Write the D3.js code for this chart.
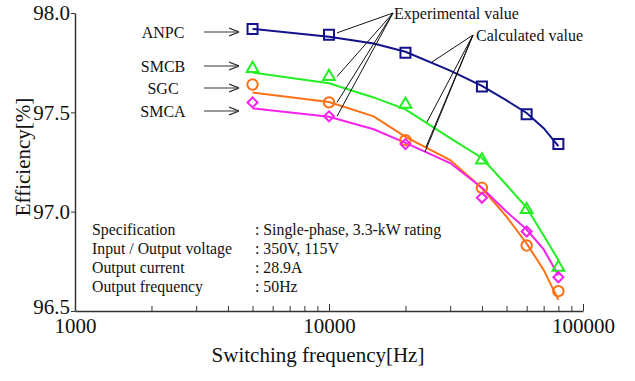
<!DOCTYPE html>
<html>
<head>
<meta charset="utf-8">
<script src="https://cdn.jsdelivr.net/npm/d3@7"></script>
<style>
body { margin: 0; background: #fff; }
svg text { font-family: "Liberation Serif", "DejaVu Serif", serif; fill: #111; }
</style>
</head>
<body>
<svg id="chart" width="635" height="381"></svg>
<script>
// switching frequency [Hz] of measured points and of calculated curve
var freqExp = [5000, 10000, 20000, 40000, 60000, 80000];
var freqCalc = [5000, 10000, 15000, 20000, 30000, 40000, 50000, 60000, 70000, 80000];

var seriesNames = ["ANPC", "SMCB", "SGC", "SMCA"];
var seriesColors = ["#12128a", "#22ee22", "#ff7014", "#f522ee"];
var seriesShapes = ["square", "triangle", "circle", "diamond"];

// efficiency [%]
var anpcExp = [97.92, 97.89, 97.80, 97.63, 97.49, 97.34];
var smcbExp = [97.72, 97.68, 97.54, 97.26, 97.01, 96.72];
var sgcExp  = [97.64, 97.55, 97.36, 97.12, 96.83, 96.60];
var smcaExp = [97.55, 97.48, 97.34, 97.07, 96.90, 96.67];

var anpcCalc = [97.92, 97.88, 97.846, 97.805, 97.71, 97.633, 97.56, 97.497, 97.42, 97.33];
var smcbCalc = [97.70, 97.646, 97.575, 97.515, 97.37, 97.27, 97.134, 97.02, 96.88, 96.757];
var sgcCalc  = [97.60, 97.552, 97.48, 97.377, 97.26, 97.118, 96.975, 96.84, 96.707, 96.556];
var smcaCalc = [97.52, 97.478, 97.415, 97.346, 97.245, 97.12, 97.0, 96.91, 96.81, 96.68];

var expData = [anpcExp, smcbExp, sgcExp, smcaExp];
var calcData = [anpcCalc, smcbCalc, sgcCalc, smcaCalc];

var yTicks = [96.5, 97.0, 97.5, 98.0];
var xMajor = [1000, 10000, 100000];

var specLabels = ["Specification", "Input / Output voltage", "Output current", "Output frequency"];
var specValues = [": Single-phase, 3.3-kW rating", ": 350V, 115V", ": 28.9A", ": 50Hz"];

var svg = d3.select("#chart");

var x = d3.scaleLog().domain([1000, 100000]).range([75, 583]);
var y = d3.scaleLinear().domain([96.5, 98.0]).range([311, 13]);

svg.append("defs").append("marker")
    .attr("id", "arr")
    .attr("viewBox", "0 0 10 10")
    .attr("refX", 10).attr("refY", 5)
    .attr("markerWidth", 10).attr("markerHeight", 10)
    .attr("markerUnits", "userSpaceOnUse")
    .attr("orient", "auto")
    .append("path")
    .attr("d", "M0,1 L10,5 L0,9")
    .attr("fill", "none")
    .attr("stroke", "#333")
    .attr("stroke-width", 1.2);

// x axis: minor ticks point up into the plot
var allX = [];
for (var dec = 1000; dec < 100000; dec *= 10) {
    for (var k = 1; k < 10; k++) allX.push(dec * k);
}
allX.push(100000);

var xAxis = d3.axisBottom(x)
    .tickValues(allX)
    .tickSizeInner(-5)
    .tickSizeOuter(0)
    .tickPadding(9)
    .tickFormat(function(d) { return xMajor.indexOf(d) >= 0 ? d : ""; });

var gx = svg.append("g")
    .attr("transform", "translate(0,311)")
    .call(xAxis);
gx.selectAll(".tick line")
    .attr("y2", function(d) { return xMajor.indexOf(d) >= 0 ? -7 : -5; })
    .attr("stroke", "#333");
gx.select(".domain").attr("stroke", "#333").attr("stroke-width", 1.5);
gx.selectAll(".tick text")
    .attr("font-size", 21)
    .attr("font-family", "Liberation Serif")
    .attr("fill", "#111")
    .attr("dy", "0.6em");

var yAxis = d3.axisLeft(y)
    .tickValues(yTicks)
    .tickSizeInner(4)
    .tickSizeOuter(0)
    .tickPadding(1)
    .tickFormat(d3.format(".1f"));

var gy = svg.append("g")
    .attr("transform", "translate(75,0)")
    .call(yAxis);
gy.select(".domain").attr("stroke", "#333").attr("stroke-width", 1.5);
gy.selectAll(".tick line").attr("stroke", "#333");
gy.selectAll(".tick text")
    .attr("font-size", 21)
    .attr("font-family", "Liberation Serif")
    .attr("fill", "#111")
    .attr("dy", function(d) { return d === 96.5 ? "0.1em" : "0.32em"; });

// axis titles
svg.append("text")
    .attr("transform", "translate(30,157) rotate(-90)")
    .attr("text-anchor", "middle")
    .attr("font-size", 21)
    .text("Efficiency[%]");

svg.append("text")
    .attr("x", 318).attr("y", 362)
    .attr("text-anchor", "middle")
    .attr("font-size", 21)
    .text("Switching frequency[Hz]");

// calculated curves
var line = d3.line()
    .x(function(d) { return x(d[0]); })
    .y(function(d) { return y(d[1]); });

calcData.forEach(function(vals, s) {
    svg.append("path")
        .datum(freqCalc.map(function(f, i) { return [f, vals[i]]; }))
        .attr("d", line)
        .attr("fill", "none")
        .attr("stroke", seriesColors[s])
        .attr("stroke-width", 2);
});

// measured markers (diamond = square turned 45 degrees)
var symType = {
    square: d3.symbolSquare,
    triangle: d3.symbolTriangle,
    circle: d3.symbolCircle,
    diamond: d3.symbolSquare
};
var symSize = { square: 100, triangle: 60, circle: 85, diamond: 50 };

expData.forEach(function(vals, s) {
    var shape = seriesShapes[s];
    svg.append("g").selectAll("path")
        .data(freqExp.map(function(f, i) { return [f, vals[i]]; }))
        .enter()
        .append("path")
        .attr("d", d3.symbol().type(symType[shape]).size(symSize[shape]))
        .attr("transform", function(d) {
            return "translate(" + x(d[0]) + "," + y(d[1]) + ")" +
                (shape === "diamond" ? " rotate(45)" : "");
        })
        .attr("fill", "none")
        .attr("stroke", seriesColors[s])
        .attr("stroke-width", 2);
});

// series labels with arrows
var labelY = [32, 66, 88, 111];
seriesNames.forEach(function(name, s) {
    svg.append("text")
        .attr("x", 163).attr("y", labelY[s])
        .attr("dy", "0.35em")
        .attr("text-anchor", "middle")
        .attr("font-size", 16)
        .text(name);
    svg.append("line")
        .attr("x1", 204).attr("y1", labelY[s])
        .attr("x2", 239).attr("y2", labelY[s])
        .attr("stroke", "#333")
        .attr("stroke-width", 1.2)
        .attr("marker-end", "url(#arr)");
});

// leader lines to "Experimental value" (points at 10 kHz)
svg.append("text")
    .attr("x", 394).attr("y", 13)
    .attr("dy", "0.35em")
    .attr("font-size", 16)
    .text("Experimental value");
expData.forEach(function(vals, s) {
    svg.append("line")
        .attr("x1", 393).attr("y1", 13)
        .attr("x2", x(freqExp[1]) + 8).attr("y2", y(vals[1]) + (s === 0 ? -2 : 0))
        .attr("stroke", "#111")
        .attr("stroke-width", 1);
});

// leader lines to "Calculated value"
svg.append("text")
    .attr("x", 476).attr("y", 35)
    .attr("dy", "0.35em")
    .attr("font-size", 16)
    .text("Calculated value");
var calcEnd = [[432, 62], [427, 122], [426, 147], [425, 152]];
calcEnd.forEach(function(p) {
    svg.append("line")
        .attr("x1", 473).attr("y1", 35)
        .attr("x2", p[0]).attr("y2", p[1])
        .attr("stroke", "#111")
        .attr("stroke-width", 1);
});

// specification block
specLabels.forEach(function(t, i) {
    svg.append("text")
        .attr("x", 92).attr("y", 229 + i * 19)
        .attr("dy", "0.35em")
        .attr("font-size", 15.8)
        .text(t);
    svg.append("text")
        .attr("x", 255).attr("y", 229 + i * 19)
        .attr("dy", "0.35em")
        .attr("font-size", 15.8)
        .text(specValues[i]);
});
</script>
</body>
</html>
